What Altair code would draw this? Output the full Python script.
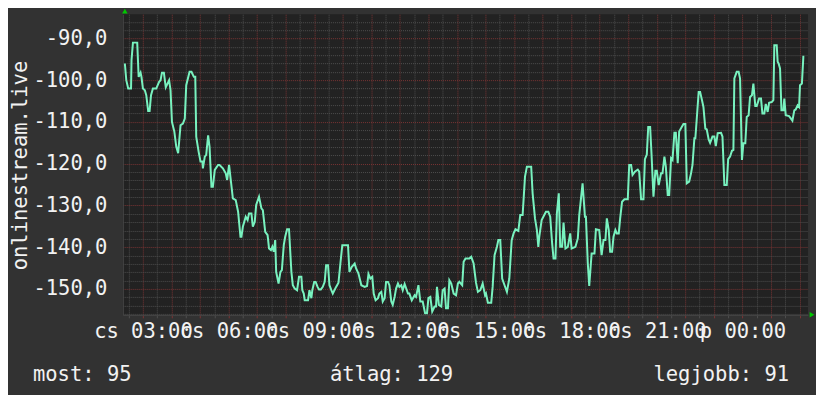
import altair as alt
import pandas as pd

# minutes since Thursday 00:00 and the measured value
minutes = [
    142, 145, 149, 155, 156, 159, 166, 168, 171, 175, 177, 180, 184, 187, 191, 194, 197, 201, 208, 214,
    217, 220, 224, 228, 235, 238, 241, 246, 250, 254, 259, 264, 268, 271, 278, 282, 287, 290, 292, 297,
    301, 305, 306, 310, 313, 317, 320, 324, 327, 331, 338, 341, 348, 354, 357, 361, 365, 369, 375, 380,
    385, 387, 390, 396, 400, 403, 408, 411, 415, 418, 424, 429, 432, 437, 442, 445, 449, 452, 455, 458,
    460, 465, 469, 472, 476, 479, 483, 487, 492, 495, 499, 504, 508, 513, 515, 518, 520, 527, 530, 534,
    536, 540, 543, 547, 550, 554, 558, 562, 565, 569, 572, 576, 579, 586, 591, 595, 599, 611, 614, 619,
    625, 628, 633,
    639, 646, 651, 654, 658, 662, 665, 669, 674, 677, 681, 684, 688, 691, 695, 698, 702, 705, 709, 712,
    716, 719, 723, 726, 730, 737, 740, 745, 751, 754, 759, 763, 768, 773, 777, 780, 784, 788, 793, 796,
    798, 802, 807, 810, 814, 817, 821, 824, 828, 833, 838, 842, 845, 851, 854, 858, 866, 870, 875, 880,
    884, 889, 894, 899, 901, 905, 912, 915, 919, 924, 927, 931, 935, 940, 945, 950, 955, 959, 963, 969,
    973, 978, 983, 987, 996, 999, 1004, 1008, 1011, 1013, 1018, 1027, 1032, 1036, 1040, 1043, 1047, 1050, 1054, 1057,
    1061, 1064, 1068, 1073, 1078, 1081, 1089, 1094, 1097, 1104, 1109, 1111, 1115, 1118, 1123, 1129, 1132, 1139, 1144, 1148,
    1152, 1155,
    1159, 1162, 1166, 1169, 1173, 1176, 1180, 1183, 1187, 1192, 1199, 1202, 1206, 1209, 1214, 1220, 1223, 1227, 1232, 1235,
    1239, 1242, 1246, 1249, 1253, 1257, 1260, 1264, 1269, 1272, 1276, 1279, 1283, 1286, 1290, 1293, 1297, 1300, 1304, 1307,
    1316, 1320, 1323, 1328, 1332, 1335, 1339, 1341, 1344, 1348, 1351, 1355, 1358, 1362, 1365, 1369, 1372, 1377, 1381, 1384,
    1388, 1395, 1398, 1402, 1407, 1410, 1414, 1418, 1421, 1423, 1428, 1432, 1435, 1439, 1442, 1446, 1449, 1453, 1456, 1460,
    1463, 1467, 1470, 1475, 1479, 1482, 1486, 1489, 1493, 1496, 1502, 1505, 1507, 1512, 1514, 1516, 1519, 1522, 1526, 1528,
    1531, 1538, 1542, 1545, 1549, 1552, 1556, 1559, 1561, 1565, 1568, 1570,
]
values = [
    -96.0, -100.0, -102.0, -102.0, -95.2, -91.0, -91.0, -91.0, -99.2, -98.2, -99.3, -102.0, -102.4, -103.6, -107.4, -107.4, -103.6, -102.0, -102.0, -100.4,
    -100.0, -98.2, -98.2, -101.7, -100.0, -102.4, -110.0, -112.3, -115.9, -117.5, -110.8, -110.4, -109.2, -101.2, -98.0, -98.0, -99.2, -99.2, -113.5, -117.1,
    -119.5, -119.5, -121.1, -118.3, -117.9, -113.2, -115.9, -125.5, -125.5, -121.5, -120.3, -120.3, -121.1, -122.3, -123.9, -120.3, -124.3, -128.3, -128.7, -131.5,
    -137.5, -137.5, -135.1, -132.7, -133.5, -131.9, -131.9, -135.1, -133.9, -129.9, -127.9, -130.7, -131.1, -136.3, -137.1, -140.3, -140.7, -139.9, -141.1, -138.3,
    -145.9, -148.7, -145.9, -145.5, -139.5, -137.5, -135.7, -135.7, -145.9, -149.1, -149.9, -150.3, -147.1, -147.1, -150.3, -151.1, -152.7, -152.7, -150.3, -152.2,
    -150.3, -148.3, -148.3, -149.5, -150.1, -150.1, -149.5, -148.3, -144.3, -144.3, -149.1, -150.3, -151.1, -149.5, -148.5, -143.9, -139.5, -139.5, -145.9, -144.7,
    -143.9, -145.1, -146.3,
    -149.1, -149.5, -149.3, -146.4, -147.5, -147.1, -151.1, -152.7, -152.2, -151.1, -150.7, -153.0, -152.2, -148.3, -148.3, -149.1, -153.0, -153.8, -151.9, -149.9,
    -148.7, -149.5, -149.1, -150.3, -148.8, -151.1, -151.1, -152.7, -151.5, -151.9, -149.1, -153.0, -153.0, -155.8, -155.8, -152.2, -151.9, -155.4, -154.2, -154.2,
    -149.5, -153.8, -154.2, -150.3, -149.9, -154.6, -154.6, -147.9, -148.7, -151.1, -151.5, -148.7, -148.3, -149.1, -143.5, -142.7, -142.7, -142.3, -143.9, -148.5,
    -150.7, -150.3, -148.7, -151.5, -151.1, -153.3, -153.3, -149.5, -141.9, -139.9, -138.3, -138.3, -147.5, -149.1, -150.7, -147.5, -138.3, -136.7, -135.7, -136.1,
    -132.3, -132.3, -123.1, -120.7, -120.7, -127.1, -133.1, -135.9, -139.9, -137.5, -133.5, -131.5, -131.5, -132.7, -139.1, -142.7, -142.7, -131.9, -127.1, -139.9,
    -139.9, -134.1, -140.3, -139.9, -136.7, -140.3, -139.9, -137.9, -132.3, -124.7, -132.7, -132.7, -143.9, -149.3, -141.5, -141.5, -135.7, -135.9, -141.9, -138.3,
    -138.3, -133.1,
    -135.9, -141.1, -141.1, -137.5, -135.9, -136.7, -136.7, -133.1, -129.1, -128.5, -128.5, -120.3, -120.3, -122.7, -121.9, -121.4, -121.9, -128.5, -128.5, -118.9,
    -117.8, -111.2, -111.2, -117.9, -127.9, -121.7, -121.7, -125.1, -122.3, -122.3, -118.3, -120.7, -127.5, -127.5, -118.7, -119.1, -112.6, -112.6, -119.9, -112.3,
    -110.5, -110.5, -124.7, -124.3, -122.3, -120.3, -113.9, -113.9, -109.2, -102.8, -102.8, -104.8, -106.4, -111.6, -111.8, -114.2, -115.0, -113.5, -113.5, -115.8,
    -112.7, -112.6, -113.5, -125.1, -125.1, -118.9, -118.3, -116.9, -116.7, -99.6, -98.0, -98.0, -99.6, -119.1, -115.1, -115.1, -108.8, -108.4, -104.0, -103.6,
    -100.8, -106.2, -106.2, -104.4, -104.4, -108.0, -108.0, -105.7, -107.6, -105.4, -105.2, -104.8, -91.6, -91.6, -95.6, -96.0, -97.2, -107.2, -107.2, -104.4,
    -108.4, -108.6, -109.2, -109.7, -107.2, -107.0, -106.0, -106.4, -101.2, -100.8, -94.4, -94.4,
]

stat_labels = ["most: 95", "átlag: 129", "legjobb: 91"]
y_title = "onlinestream.live"

X_DOMAIN = [137.8, 1577.8]
Y_DOMAIN = [-156.2, -84.2]
x_ticks = list(range(150, 1561, 30))
y_ticks = list(range(-156, -85, 2))

FONT = "DejaVu Sans Mono"
FS = 20.5
TXT = "#f2f2f2"
RED = "#7a3434"
GRAY = "#4e4e4e"

df = pd.DataFrame({"minute": minutes, "value": values})

x_scale = alt.Scale(domain=X_DOMAIN, nice=False, zero=False)
y_scale = alt.Scale(domain=Y_DOMAIN, nice=False, zero=False)

x_axis = alt.Axis(
    values=x_ticks,
    grid=True,
    gridDash=[1, 1],
    gridColor={"condition": {"test": "datum.value % 60 === 0", "value": RED}, "value": GRAY},
    tickColor={"condition": {"test": "datum.value % 60 === 0", "value": RED}, "value": GRAY},
    tickSize=3,
    labelExpr="datum.value % 180 === 0 ? (datum.value === 1440 ? 'p 00:00' : 'cs ' + format(floor(datum.value / 60) % 24, '02d') + ':00') : ''",
    labelFont=FONT,
    labelFontSize=FS,
    labelColor=TXT,
    labelOverlap=False,
    labelFlush=False,
    labelBound=False,
    labelPadding=4,
    domainColor="#454545",
    title=None,
)

y_axis = alt.Axis(
    values=y_ticks,
    grid=True,
    gridDash=[1, 1],
    gridColor={"condition": {"test": "datum.value % 10 === 0", "value": RED}, "value": GRAY},
    ticks=False,
    labelExpr="datum.value % 10 === 0 ? '-' + replace(format(-datum.value, '.1f'), '.', ',') : ''",
    labelFont=FONT,
    labelFontSize=FS,
    labelColor=TXT,
    labelOverlap=False,
    labelFlush=False,
    labelBound=False,
    labelPadding=16,
    domainColor="#454545",
    title=y_title,
    titleFont=FONT,
    titleFontSize=FS,
    titleFontWeight="normal",
    titleColor=TXT,
    titleAngle=270,
    titleAlign="center",
    titleBaseline="middle",
    titleX=-102,
    titleY=151,
)

line = alt.Chart(df).mark_line(color="#78f2bf", strokeWidth=2, clip=True).encode(
    x=alt.X("minute:Q", scale=x_scale, axis=x_axis),
    y=alt.Y("value:Q", scale=y_scale, axis=y_axis),
)

stat_pos = [(-90, "left"), (269, "center"), (667, "right")]
stat_layers = []
for lab, (px, al) in zip(stat_labels, stat_pos):
    stat_layers.append(
        alt.Chart(pd.DataFrame({"t": [lab]}))
        .mark_text(font=FONT, fontSize=FS, color=TXT, align=al, baseline="middle")
        .encode(text="t:N", x=alt.value(px), y=alt.value(361))
    )

arrow_up = alt.Chart(pd.DataFrame({"a": [0]})).mark_point(
    shape="triangle-up", filled=True, color="#00c800", size=30, opacity=1, xOffset=2, yOffset=-3
).encode(
    x=alt.X(datum=X_DOMAIN[0], axis=x_axis, scale=x_scale),
    y=alt.Y(datum=Y_DOMAIN[1], axis=y_axis, scale=y_scale),
)
arrow_right = alt.Chart(pd.DataFrame({"a": [0]})).mark_point(
    shape="triangle-right", filled=True, color="#00c800", size=30, opacity=1, xOffset=4, yOffset=0
).encode(
    x=alt.X(datum=X_DOMAIN[1], axis=x_axis, scale=x_scale),
    y=alt.Y(datum=Y_DOMAIN[0], axis=y_axis, scale=y_scale),
)

chart = alt.layer(line, arrow_up, arrow_right, *stat_layers).properties(
    width=686,
    height=301,
    autosize="none",
    padding={"left": 115, "top": 6, "right": 8, "bottom": 80},
    background="#323232",
).configure_view(fill="#222222", stroke=None)

chart.save("out.html", embed_options={"renderer": "svg", "actions": False})
